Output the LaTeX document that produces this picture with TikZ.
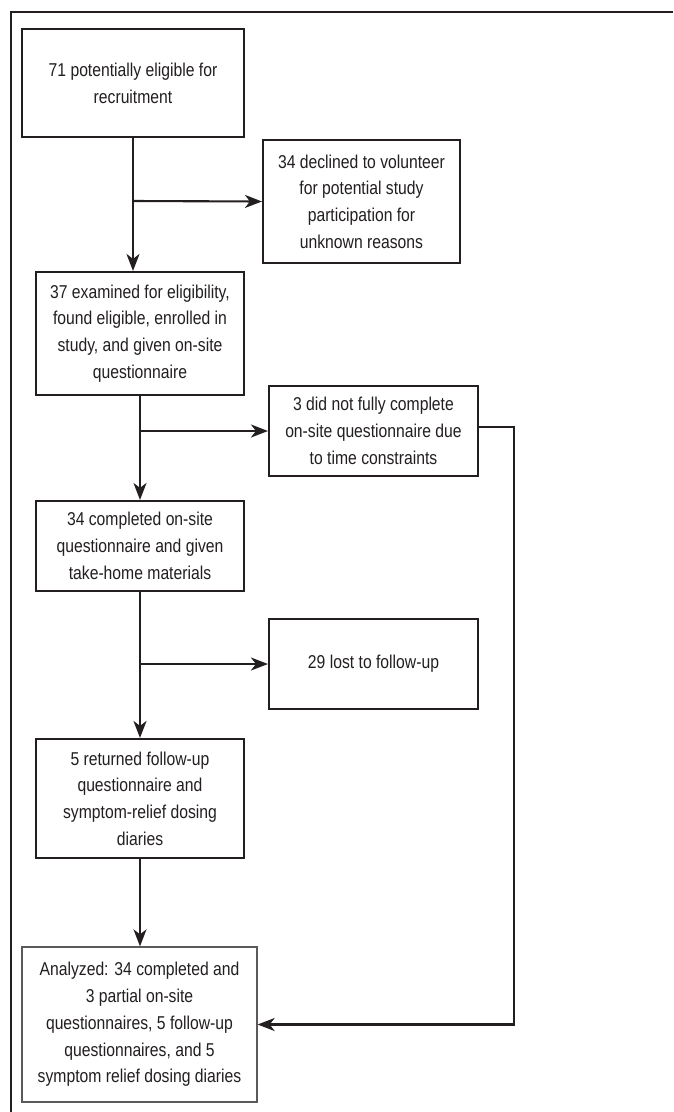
\documentclass[tikz,border=0pt]{standalone}
\usepackage{fontspec}
\setmainfont{Liberation Sans}[FakeStretch=0.845]
\usetikzlibrary{arrows.meta}
\definecolor{ink}{HTML}{231F20}
\definecolor{graybox}{HTML}{5A5A5A}
\begin{document}
\begin{tikzpicture}[x=1pt,y=-1pt,
  box/.style={draw=ink,line width=2.1pt,rectangle,inner sep=0pt,align=center,text=ink,
    font=\fontsize{18.6}{26.7}\selectfont},
  boxthin/.style={box,draw=graybox,line width=1.3pt},
  arr/.style={draw=ink,line width=2.1pt,-{Stealth[length=17pt,width=13pt,inset=5pt]}},
  link/.style={draw=ink,line width=2.1pt}]
\useasboundingbox (0,0) rectangle (673,1112);
\fill[white] (0,0) rectangle (673,1112);
\draw[ink,line width=2.6pt] (673,12) -- (11,12) -- (11,1112);

\node[box,minimum width=222pt,minimum height=108pt] (b1) at (133,83)
  {71 potentially eligible for\\recruitment};
\node[box,minimum width=197pt,minimum height=123pt] (b2) at (361.5,201.5)
  {34 declined to volunteer\\for potential study\\participation for\\unknown reasons};
\node[box,minimum width=208pt,minimum height=123pt] (b3) at (140,333.5)
  {37 examined for eligibility,\\found eligible, enrolled in\\study, and given on-site\\questionnaire};
\node[box,minimum width=209pt,minimum height=90pt] (b4) at (373.5,431)
  {3 did not fully complete\\on-site questionnaire due\\to time constraints};
\node[box,minimum width=208pt,minimum height=90pt] (b5) at (140,546)
  {34 completed on-site\\questionnaire and given\\take-home materials};
\node[box,minimum width=209pt,minimum height=90pt] (b6) at (373.5,664)
  {29 lost to follow-up};
\node[box,minimum width=208pt,minimum height=119pt] (b7) at (140,798.5)
  {5 returned follow-up\\questionnaire and\\symptom-relief dosing\\diaries};
\node[boxthin,minimum width=235pt,minimum height=155pt] (b8) at (139.5,1024.5)
  {Analyzed: 34 completed and\\3 partial on-site\\questionnaires, 5 follow-up\\questionnaires, and 5\\symptom relief dosing diaries};

\coordinate (j1) at (133,201);
\coordinate (j2) at (140,431);
\coordinate (j3) at (140,664);
\coordinate (r1) at (514,427);

\draw[arr] (b1.south) -- (b1.south |- b3.north);
\draw[arr] (j1) -- (b2.west);
\draw[arr] (b3.south) -- (b5.north);
\draw[arr] (j2) -- (b4.west);
\draw[arr] (b5.south) -- (b7.north);
\draw[arr] (j3) -- (b6.west);
\draw[arr] (b7.south) -- (b7.south |- b8.north);
\draw[arr] (b4.east |- r1) -- (r1) |- (b8.east);
\end{tikzpicture}
\end{document}
